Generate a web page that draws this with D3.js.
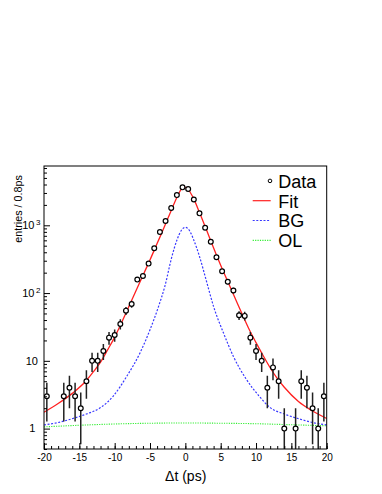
<!DOCTYPE html>
<html><head><meta charset="utf-8">
<script src="https://cdn.jsdelivr.net/npm/d3@7"></script>
<style>body{margin:0;background:#fff}svg{display:block;font-family:"Liberation Sans",Arial,Helvetica,sans-serif}</style>
</head><body>
<svg id="c" width="382" height="494"></svg>
<script>
// ---- data ----
const binCenters = [-19.6,-17.2,-16.4,-15.6,-14.8,-14.0,-13.2,-12.4,-11.6,-10.8,-10.0,-9.2,-8.4,-7.6,-6.8,-6.0,-5.2,-4.4,-3.6,-2.8,-2.0,-1.2,-0.4,0.4,1.2,2.0,2.8,3.6,4.4,5.2,6.0,6.8,7.6,8.4,9.2,10.0,10.8,11.6,12.4,13.2,14.0,15.6,16.4,17.2,18.0,18.8,19.6];
const counts     = [3,3,4,3,2,5,10,10,14,22,24,35,55,69,158,179,272,459,795,1156,1800,2790,3630,3425,2400,1500,922,573,338,210,147,109,47,46,22,14,10,4,8,5,1,1,5,4,2,1,3];

const fitX = [-20,-18,-16,-14,-13,-12,-11,-10,-9,-8,-7,-6,-5,-4,-3,-2,-1.2,-0.6,-0.3,0,0.4,1,2,3,4,5,6,7,8,9,10,11,12,13,14,16,18,20];
const fitY = [1.74,2.34,3.31,5.13,6.92,9.55,14.5,22.4,37.2,63.1,107,182,309,537,933,1660,2570,3390,3670,3630,3390,2690,1550,851,462,257,148,86,50,29.5,18.6,12.0,7.9,5.5,4.07,2.51,1.82,1.41];

const bgX = [-20,-18,-16,-14,-12,-10.2,-8.3,-6.4,-5,-3.8,-2.9,-1.9,-1.2,-0.6,0,0.6,1.2,2,3,4,5.4,6.8,8.6,10.4,12,14,16,18,20];
const bgY = [1.13,1.23,1.40,1.64,2.04,3.02,5.89,13.2,28.8,63.1,126,347,603,832,933,832,603,347,148,63,25.7,11.6,5.4,3.05,2.04,1.64,1.40,1.23,1.13];

const olX = [-20,-15,-10,-5,0,5,10,15,20];
const olY = [1.06,1.12,1.17,1.20,1.21,1.20,1.18,1.14,1.10];

const xTickValues = [-20,-15,-10,-5,0,5,10,15,20];
const yTickLabels = [
  {v:1, base:"1", sup:""},
  {v:10, base:"10", sup:""},
  {v:100, base:"10", sup:"2"},
  {v:1000, base:"10", sup:"3"}
];
const legendItems = [
  {label:"Data", kind:"marker"},
  {label:"Fit", kind:"line", color:"#ff2020", dash:null},
  {label:"BG", kind:"line", color:"#3838ff", dash:"2,1.6"},
  {label:"OL", kind:"line", color:"#33ee33", dash:"1.2,1.2"}
];

// ---- drawing ----
const svg = d3.select("#c");
const L = 44, R = 326.7, T = 166, B = 449;
const x = d3.scaleLinear().domain([-20,20]).range([L,R]);
const y = d3.scaleLog().domain([0.5,7500]).range([B,T]);

svg.append("defs").append("clipPath").attr("id","clip")
  .append("rect").attr("x",L).attr("y",T).attr("width",R-L).attr("height",B-T);

const plot = svg.append("g").attr("clip-path","url(#clip)");

const line = d3.line().curve(d3.curveMonotoneX);
function curve(xs, ys, color, dash, w){
  const p = plot.append("path")
    .attr("d", line(xs.map((v,i)=>[x(v), y(ys[i])])))
    .attr("fill","none").attr("stroke",color).attr("stroke-width",w);
  if(dash) p.attr("stroke-dasharray",dash);
}
curve(olX, olY, "#33ee33", "1.2,1.2", 1.1);
curve(bgX, bgY, "#3838ff", "2,1.6", 1.2);
curve(fitX, fitY, "#ff2020", null, 1.3);

// error bars
const data = binCenters.map((c,i)=>({x:c, n:counts[i]}));
plot.selectAll("line.err").data(data).enter().append("line")
  .attr("class","err")
  .attr("x1",d=>x(d.x)).attr("x2",d=>x(d.x))
  .attr("y1",d=>y(d.n+Math.sqrt(d.n)))
  .attr("y2",d=>{const lo=d.n-Math.sqrt(d.n); return lo>0.5? y(lo) : B+2;})
  .attr("stroke","#222").attr("stroke-width",1.5);
plot.selectAll("circle.pt").data(data).enter().append("circle")
  .attr("class","pt")
  .attr("cx",d=>x(d.x)).attr("cy",d=>y(d.n)).attr("r",2.4)
  .attr("fill","#fff").attr("stroke","#000").attr("stroke-width",1.2);

// frame
svg.append("rect").attr("x",L).attr("y",T).attr("width",R-L).attr("height",B-T)
  .attr("fill","none").attr("stroke","#000").attr("stroke-width",1);

// x axis ticks
const xMinor = d3.range(-20,21,1);
const gx = svg.append("g").attr("transform",`translate(0,${B})`);
gx.call(d3.axisBottom(x).tickValues(xMinor).tickSizeInner(-3).tickSizeOuter(0).tickFormat(""));
const gx2 = svg.append("g").attr("transform",`translate(0,${B})`);
gx2.call(d3.axisBottom(x).tickValues(xTickValues).tickSizeInner(-6).tickSizeOuter(0).tickPadding(5).tickFormat(d3.format("d")));
[gx,gx2].forEach(g=>{g.select(".domain").remove(); g.selectAll("line").attr("stroke","#000");});
gx2.selectAll("text").attr("font-size",10).attr("fill","#000")
  .attr("font-family",'"Liberation Sans",Arial,sans-serif')
  .text(d=>d<0? "-"+Math.abs(d) : d);

// y axis ticks
const yMinor = [];
[0.1,1,10,100,1000].forEach(dec=>{for(let k=2;k<=9;k++){const v=dec*k; if(v>=0.5 && v<=7500) yMinor.push(v);}});
const yMajor = [1,10,100,1000];
const gy = svg.append("g").attr("transform",`translate(${L},0)`);
gy.call(d3.axisLeft(y).tickValues(yMinor).tickSizeInner(-3).tickSizeOuter(0).tickFormat(""));
const gy2 = svg.append("g").attr("transform",`translate(${L},0)`);
gy2.call(d3.axisLeft(y).tickValues(yMajor).tickSizeInner(-6).tickSizeOuter(0).tickFormat(""));
[gy,gy2].forEach(g=>{g.select(".domain").remove(); g.selectAll("line").attr("stroke","#000");});

// y labels
yTickLabels.forEach(t=>{
  const yy = y(t.v);
  if(t.sup){
    svg.append("text").attr("x",34.5).attr("y",yy+3.8)
      .attr("text-anchor","end").attr("font-size",11).text(t.base);
    svg.append("text").attr("x",36).attr("y",yy-0.5)
      .attr("font-size",8).text(t.sup);
  } else {
    svg.append("text").attr("x", t.base==="1"?32.4:31.8).attr("y",yy+3.8)
      .attr("text-anchor","middle").attr("font-size",11).text(t.base);
  }
});

// axis titles
svg.append("text").attr("x",185.7).attr("y",480.5).attr("text-anchor","middle")
  .attr("font-size",14).text("Δt (ps)");
svg.append("text").attr("transform","translate(21.5,175) rotate(-90)")
  .attr("text-anchor","end").attr("font-size",10.8).text("entries / 0.8ps");

// legend
const lg = svg.append("g");
legendItems.forEach((it,i)=>{
  const by = 187.7 + i*19.8;
  const cy = by - 6.8;
  if(it.kind==="marker"){
    lg.append("circle").attr("cx",270).attr("cy",cy).attr("r",1.8)
      .attr("fill","#fff").attr("stroke","#000").attr("stroke-width",1);
  } else {
    const l = lg.append("line").attr("x1",252.7).attr("x2",270.7).attr("y1",cy).attr("y2",cy)
      .attr("stroke",it.color).attr("stroke-width",1.2);
    if(it.dash) l.attr("stroke-dasharray",it.dash);
  }
  lg.append("text").attr("x",278.3).attr("y",by).attr("font-size",18).text(it.label);
});
</script>
</body></html>
